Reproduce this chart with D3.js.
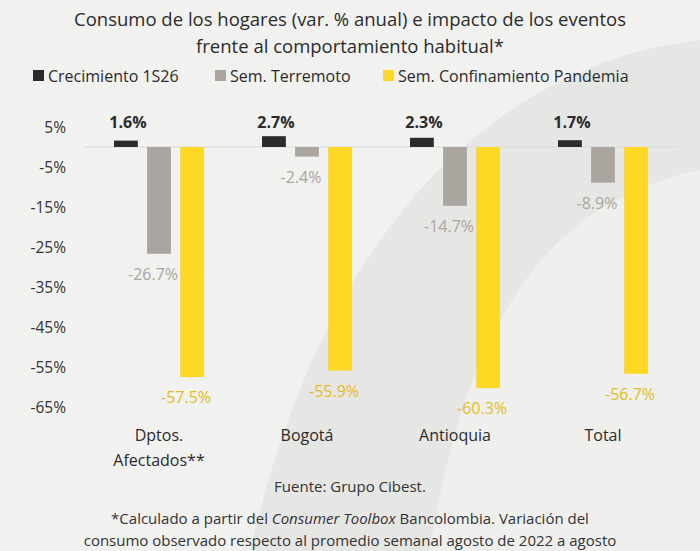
<!DOCTYPE html>
<html><head><meta charset="utf-8">
<script src="https://cdn.jsdelivr.net/npm/d3@7"></script>
<style>
body{margin:0;background:#f1f1f0;overflow:hidden}
text{font-family:"Open Sans","Noto Sans",sans-serif}
</style></head><body><svg id="chart" width="700" height="551"></svg>
<script>
const categories = [["Dptos.", "Afectados**"], ["Bogotá"], ["Antioquia"], ["Total"]];
const seriesNames = ["Crecimiento 1S26", "Sem. Terremoto", "Sem. Confinamiento Pandemia"];
const crecimiento = [1.6, 2.7, 2.3, 1.7];
const terremoto = [-26.7, -2.4, -14.7, -8.9];
const pandemia = [-57.5, -55.9, -60.3, -56.7];
const yTicks = [5, -5, -15, -25, -35, -45, -55, -65];
const colors = ["#2b2b2b", "#aba59f", "#fdd824"];
const labelColors = ["#2b2b2b", "#aba59f", "#e3bc22"];

const svg = d3.select("#chart");
// background swoosh
svg.append("path")
  .attr("d", "M700,40 C520,60 330,200 250,551 L700,551 Z")
  .attr("fill", "#e6e6e5");
svg.append("path")
  .attr("d", "M700,170 C560,200 470,300 430,551 L700,551 Z")
  .attr("fill", "#efefee");

svg.append("text").attr("x", 350).attr("y", 26).attr("text-anchor", "middle")
  .attr("font-size", 18.5).attr("fill", "#2b2b2b")
  .text("Consumo de los hogares (var. % anual) e impacto de los eventos");
svg.append("text").attr("x", 350).attr("y", 53).attr("text-anchor", "middle")
  .attr("font-size", 18.5).attr("fill", "#2b2b2b")
  .text("frente al comportamiento habitual*");

// legend
const legX = [33, 215, 383];
seriesNames.forEach((n, i) => {
  svg.append("rect").attr("x", legX[i]).attr("y", 70).attr("width", 11).attr("height", 11).attr("fill", colors[i]);
  svg.append("text").attr("x", legX[i] + 15).attr("y", 82).attr("font-size", 16).attr("fill", "#2b2b2b").text(n);
});

const y = d3.scaleLinear().domain([5, -65]).range([127, 407]);
const x0 = d3.scaleBand().domain(d3.range(4)).range([85, 677]);
const x1 = d3.scaleBand().domain(d3.range(3)).range([0, 90]).paddingInner(0.28);

svg.append("g").selectAll("text").data(yTicks).join("text")
  .attr("x", 66).attr("y", d => y(d) + 6).attr("text-anchor", "end")
  .attr("font-size", 15.5).attr("fill", "#333").text(d => d + "%");

svg.append("line").attr("x1", 85).attr("x2", 677).attr("y1", y(0)).attr("y2", y(0))
  .attr("stroke", "#d9d9d9").attr("stroke-width", 1);

const series = [crecimiento, terremoto, pandemia];
series.forEach((vals, s) => {
  const g = svg.append("g");
  vals.forEach((v, i) => {
    const bx = x0(i) + x0.bandwidth() / 2 - 45 + x1(s);
    g.append("rect").attr("x", bx).attr("width", x1.bandwidth())
      .attr("y", y(Math.max(0, v))).attr("height", Math.abs(y(v) - y(0)))
      .attr("fill", colors[s]);
    const cx = bx + x1.bandwidth() / 2;
    const ly = v > 0 ? y(v) - 22 : y(v) + 20;
    g.append("text").attr("x", s === 0 ? cx + 2 : cx - 6).attr("y", s === 0 ? 128 : ly + 6)
      .attr("text-anchor", "middle").attr("font-size", 16)
      .attr("font-weight", s === 0 ? "bold" : "normal")
      .attr("fill", labelColors[s]).text(v.toFixed(1) + "%");
  });
});

categories.forEach((c, i) => {
  c.forEach((line, j) => {
    svg.append("text").attr("x", x0(i) + x0.bandwidth() / 2).attr("y", 441 + j * 25)
      .attr("text-anchor", "middle").attr("font-size", 16).attr("fill", "#2b2b2b").text(line);
  });
});

svg.append("text").attr("x", 350).attr("y", 492).attr("text-anchor", "middle")
  .attr("font-size", 15).attr("fill", "#333").text("Fuente: Grupo Cibest.");
const f1 = svg.append("text").attr("x", 350).attr("y", 524).attr("text-anchor", "middle")
  .attr("font-size", 15).attr("fill", "#333");
f1.append("tspan").text("*Calculado a partir del ");
f1.append("tspan").attr("font-style", "italic").text("Consumer Toolbox");
f1.append("tspan").text(" Bancolombia. Variación del");
svg.append("text").attr("x", 350).attr("y", 546).attr("text-anchor", "middle")
  .attr("font-size", 15).attr("fill", "#333")
  .text("consumo observado respecto al promedio semanal agosto de 2022 a agosto");
</script></body></html>
